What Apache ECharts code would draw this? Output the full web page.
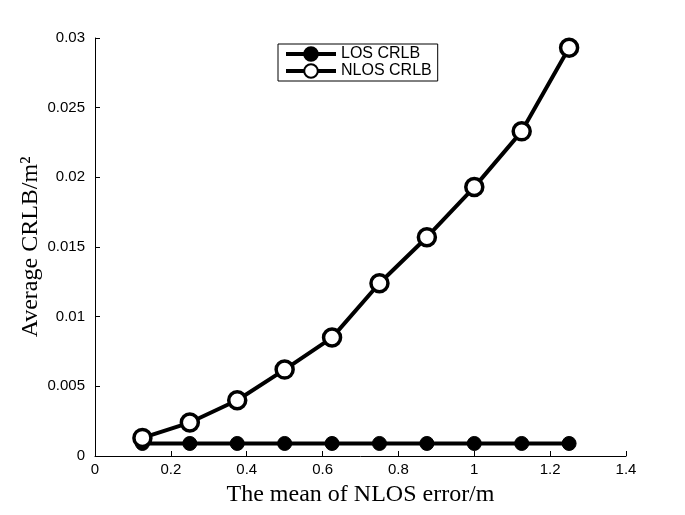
<!DOCTYPE html>
<html><head><meta charset="utf-8">
<script src="https://cdn.jsdelivr.net/npm/echarts@6/dist/echarts.min.js"></script>
<style>html,body{margin:0;padding:0;background:#fff}#c{width:685px;height:515px}</style>
</head><body><div id="c"></div>
<script>
const xValues = [0.125, 0.25, 0.375, 0.5, 0.625, 0.75, 0.875, 1.0, 1.125, 1.25];
const losCRLB = [0.0009, 0.0009, 0.0009, 0.0009, 0.0009, 0.0009, 0.0009, 0.0009, 0.0009, 0.0009];
const nlosCRLB = [0.0013, 0.0024, 0.0040, 0.0062, 0.0085, 0.0124, 0.0157, 0.0193, 0.0233, 0.0293];
const seriesNames = ['LOS CRLB', 'NLOS CRLB'];

const chart = echarts.init(document.getElementById('c'));
const axisLabel = {color:'#000', fontFamily:'Liberation Sans, Arial, sans-serif', fontSize:15};
chart.setOption({
  animation:false,
  backgroundColor:'#fff',
  grid:{left:95, right:59, top:38, bottom:59},
  legend:{
    data:seriesNames,
    left:278, top:44,
    orient:'vertical',
    borderColor:'#000', borderWidth:1, borderRadius:0,
    padding:[2,6,2,6],
    itemGap:1, itemWidth:50, itemHeight:17,
    lineStyle:{width:4},
    textStyle:{color:'#000', fontFamily:'Liberation Sans, Arial, sans-serif', fontSize:16}
  },
  xAxis:{
    type:'value', min:0, max:1.4, interval:0.2,
    axisLine:{show:true, lineStyle:{color:'#000', width:1}},
    axisTick:{show:true, inside:true, length:5, lineStyle:{color:'#000'}},
    splitLine:{show:false},
    axisLabel:Object.assign({margin:6, formatter:v=>String(+v.toFixed(1))}, axisLabel),
    name:'The mean of NLOS error/m', nameLocation:'middle', nameGap:27,
    nameTextStyle:{color:'#000', fontFamily:'Liberation Serif, Times New Roman, serif', fontSize:24}
  },
  yAxis:{
    type:'value', min:0, max:0.03, interval:0.005,
    axisLine:{show:true, lineStyle:{color:'#000', width:1}},
    axisTick:{show:true, inside:true, length:5, lineStyle:{color:'#000'}},
    splitLine:{show:false},
    axisLabel:Object.assign({margin:10, formatter:v=>String(+v.toFixed(3))}, axisLabel),
    name:'Average CRLB/m²', nameLocation:'middle', nameGap:52, nameMoveOverlap:false,
    nameTextStyle:{color:'#000', fontFamily:'Liberation Serif, Times New Roman, serif', fontSize:24}
  },
  series:[
    {
      name:seriesNames[0], type:'line',
      data:xValues.map((x,i)=>[x, losCRLB[i]]),
      lineStyle:{color:'#000', width:4},
      symbol:'circle', symbolSize:14,
      itemStyle:{color:'#000', borderColor:'#000', borderWidth:1}
    },
    {
      name:seriesNames[1], type:'line',
      data:xValues.map((x,i)=>[x, nlosCRLB[i]]),
      lineStyle:{color:'#000', width:4},
      symbol:'circle', symbolSize:17,
      itemStyle:{color:'#fff', borderColor:'#000', borderWidth:3.5}
    }
  ]
});
</script></body></html>
